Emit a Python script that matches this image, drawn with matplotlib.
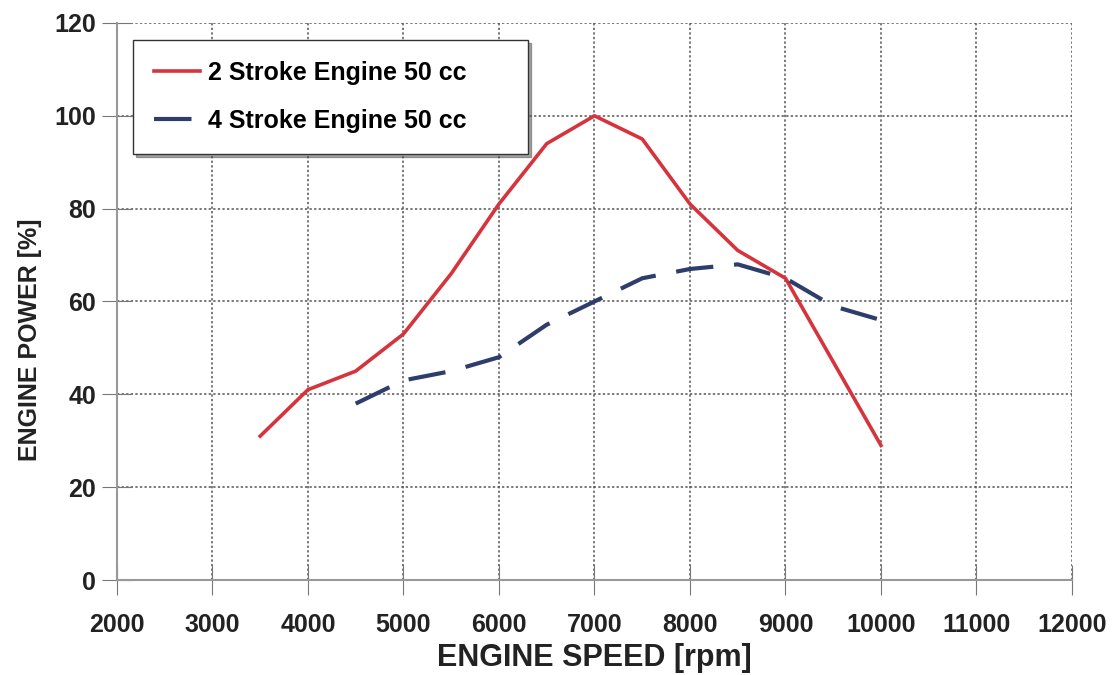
import numpy as np
import matplotlib
matplotlib.use("Agg")
import matplotlib.pyplot as plt

plt.rcParams['font.family'] = ['Liberation Sans', 'DejaVu Sans']
plt.rcParams['font.weight'] = 'bold'

# data
rpm_2s = [3500, 4000, 4500, 5000, 5500, 6000, 6500, 7000, 7500, 8000, 8500, 9000, 9500, 10000]
pow_2s = [31, 41, 45, 53, 66, 81, 94, 100, 95, 81, 71, 65, 47, 29]
rpm_4s = [4500, 5000, 5500, 6000, 6500, 7000, 7500, 8000, 8500, 9000, 9500, 10000]
pow_4s = [38, 43, 45, 48, 55, 60, 65, 67, 68, 65, 59, 56]
label_2s = "2 Stroke Engine 50 cc"
label_4s = "4 Stroke Engine 50 cc"

fig = plt.figure(figsize=(11.17, 6.75), dpi=100)
ax = fig.add_axes([0.1047, 0.1407, 0.855, 0.8253])

ax.plot(rpm_2s, pow_2s, color='#d6343c', lw=2.6, label=label_2s)
ax.plot(rpm_4s, pow_4s, color='#2f3d6b', lw=3.0, dashes=(9, 5), label=label_4s)

ax.set_xlim(2000, 12000)
ax.set_ylim(0, 120)
ax.set_xticks(np.arange(2000, 12001, 1000))
ax.set_yticks(np.arange(0, 121, 20))
ax.grid(True, linestyle=(0, (1.5, 1.5)), color='#555555', lw=1.1)
ax.set_axisbelow(True)

for s in ['top', 'right']:
    ax.spines[s].set_visible(False)
for s in ['left', 'bottom']:
    ax.spines[s].set_color('#999999')
    ax.spines[s].set_linewidth(1.5)

ax.tick_params(direction='inout', length=22, color='#777777', labelsize=18, labelcolor='#222222')
ax.tick_params(axis='y', pad=4)
ax.tick_params(axis='x', pad=13)
for t in ax.get_xticklabels() + ax.get_yticklabels():
    t.set_fontweight('bold')

ax.set_xlabel("ENGINE SPEED [rpm]", fontsize=22, fontweight='bold', color='#222222')
ax.set_ylabel("ENGINE POWER [%]", fontsize=18, fontweight='bold', color='#222222')
ax.xaxis.set_label_coords(0.5, -0.113)
ax.yaxis.set_label_coords(-0.078, 0.431)

leg = ax.legend(loc='upper left', bbox_to_anchor=(0.0168, 0.5, 0.4136, 0.4695), mode='expand',
                borderaxespad=0, fontsize=18, frameon=True, fancybox=False, shadow=True,
                handlelength=1.85, borderpad=0.85, labelspacing=0.95, handletextpad=0.3)
leg.get_frame().set_edgecolor('#333333')
leg.get_frame().set_linewidth(1.0)

fig.savefig("out.png", dpi=100)
